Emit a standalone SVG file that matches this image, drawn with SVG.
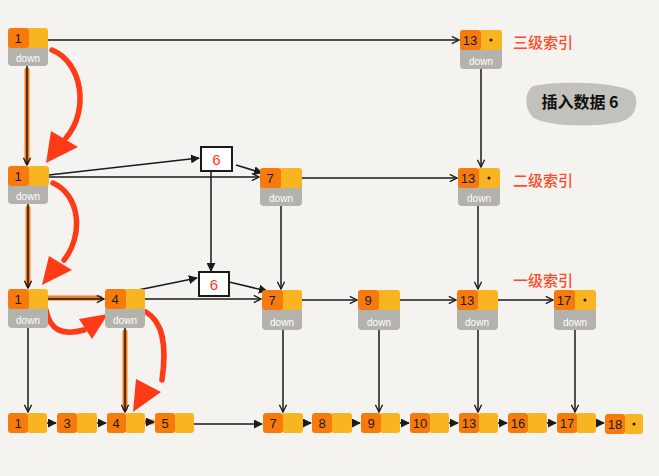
<svg xmlns="http://www.w3.org/2000/svg" width="659" height="476" viewBox="0 0 659 476">
<style>
.o{fill:#f77a0c}
.y{fill:#f8b421}
.d{fill:#b4b2ac}
.n{font-family:"Liberation Sans",sans-serif;font-size:13px;fill:#1a1a1a;text-anchor:middle}
.dw{font-family:"Liberation Sans",sans-serif;font-size:10px;fill:#ffffff;text-anchor:middle}
.dot{fill:#1a1a1a}
.ln{stroke:#1a1a1a;stroke-width:1.5;fill:none}
.hl{stroke:#f57a18;stroke-width:5;fill:none;stroke-linecap:round}
.red{stroke:#ff3a17;stroke-width:5.5;fill:none;stroke-linecap:round}
.rh{fill:#ff3a17}
.lbl{font-family:"Noto Sans CJK SC",sans-serif;font-size:15px;font-weight:500;fill:#ff4a2a}
.box{fill:#ffffff;stroke:#1a1a1a;stroke-width:2}
.six{font-family:"Liberation Sans",sans-serif;font-size:15px;fill:#ff3a17;text-anchor:middle}
</style>
<defs>
<marker id="f" viewBox="0 0 10 10" refX="9" refY="5" markerWidth="6" markerHeight="6" orient="auto"><path d="M0,0 L10,5 L0,10 z" fill="#1a1a1a"/></marker>
<marker id="c" viewBox="0 0 10 10" refX="9" refY="5" markerWidth="6" markerHeight="6" orient="auto"><path d="M1,1 L9,5 L1,9" fill="none" stroke="#1a1a1a" stroke-width="1.5"/></marker>
</defs>
<rect width="659" height="476" fill="#f4f3ef"/>

<g id="connectors">
<line class="hl" x1="27" y1="70" x2="27" y2="162"/>
<line class="hl" x1="28" y1="208" x2="28" y2="285"/>
<line class="hl" x1="44" y1="298" x2="100" y2="298"/>
<line class="hl" x1="125" y1="332" x2="125" y2="409"/>
<line class="hl" x1="140" y1="422" x2="152" y2="422"/>
<line class="ln" x1="40" y1="40" x2="459" y2="40" marker-end="url(#c)"/>
<line class="ln" x1="27" y1="66" x2="27" y2="165" marker-end="url(#c)"/>
<line class="ln" x1="481" y1="69" x2="481" y2="167" marker-end="url(#c)"/>
<line class="ln" x1="40" y1="176" x2="199" y2="158" marker-end="url(#f)"/>
<line class="ln" x1="236" y1="165" x2="262" y2="173" marker-end="url(#f)"/>
<line class="ln" x1="40" y1="177" x2="259" y2="177" marker-end="url(#c)"/>
<line class="ln" x1="292" y1="178" x2="457" y2="178" marker-end="url(#c)"/>
<line class="ln" x1="211" y1="172" x2="211" y2="271" marker-end="url(#f)"/>
<line class="ln" x1="28" y1="204" x2="28" y2="288" marker-end="url(#c)"/>
<line class="ln" x1="281" y1="206" x2="281" y2="289" marker-end="url(#c)"/>
<line class="ln" x1="478" y1="206" x2="478" y2="289" marker-end="url(#c)"/>
<line class="ln" x1="40" y1="299" x2="104" y2="299" marker-end="url(#c)"/>
<line class="ln" x1="138" y1="290" x2="197" y2="278" marker-end="url(#f)"/>
<line class="ln" x1="229" y1="282" x2="267" y2="291" marker-end="url(#f)"/>
<line class="ln" x1="142" y1="299" x2="261" y2="299" marker-end="url(#c)"/>
<line class="ln" x1="294" y1="300" x2="357" y2="300" marker-end="url(#c)"/>
<line class="ln" x1="390" y1="300" x2="456" y2="300" marker-end="url(#c)"/>
<line class="ln" x1="487" y1="300" x2="553" y2="300" marker-end="url(#c)"/>
<line class="ln" x1="28" y1="328" x2="28" y2="412" marker-end="url(#c)"/>
<line class="ln" x1="125" y1="328" x2="125" y2="412" marker-end="url(#c)"/>
<line class="ln" x1="283" y1="330" x2="283" y2="412" marker-end="url(#c)"/>
<line class="ln" x1="379" y1="330" x2="379" y2="412" marker-end="url(#c)"/>
<line class="ln" x1="478" y1="330" x2="478" y2="412" marker-end="url(#c)"/>
<line class="ln" x1="575" y1="330" x2="575" y2="412" marker-end="url(#c)"/>
<line class="ln" x1="38" y1="423" x2="56" y2="423" marker-end="url(#f)"/>
<line class="ln" x1="87" y1="423" x2="106" y2="423" marker-end="url(#f)"/>
<line class="ln" x1="186" y1="424" x2="262" y2="424" marker-end="url(#f)"/>
<line class="ln" x1="293" y1="423" x2="311" y2="423" marker-end="url(#f)"/>
<line class="ln" x1="342" y1="423" x2="360" y2="423" marker-end="url(#f)"/>
<line class="ln" x1="391" y1="423" x2="409" y2="423" marker-end="url(#f)"/>
<line class="ln" x1="440" y1="423" x2="458" y2="423" marker-end="url(#f)"/>
<line class="ln" x1="489" y1="423" x2="507" y2="423" marker-end="url(#f)"/>
<line class="ln" x1="538" y1="423" x2="556" y2="423" marker-end="url(#f)"/>
<line class="ln" x1="587" y1="423" x2="604" y2="423" marker-end="url(#f)"/>
<line x1="137" y1="422" x2="154" y2="422" stroke="#c0300a" stroke-width="1.5" marker-end="url(#f)"/>
<path class="red" d="M52,50 C82,62 90,110 66,138"/>
<polygon class="rh" points="51,131 78,147 46,163"/>
<path class="red" d="M53,183 C80,195 84,235 64,260"/>
<polygon class="rh" points="49,256 72,270 42,285"/>
<path class="red" d="M46,310 C50,330 62,336 84,330"/>
<polygon class="rh" points="79,319 108,314 92,339"/>
<path class="red" d="M146,312 C163,322 167,345 162,380"/>
<polygon class="rh" points="136,379 161,392 133,412"/>
</g>

<g id="n3-1"><rect class="d" x="8" y="44" width="40" height="22" rx="4"/><rect class="y" x="27" y="28" width="21" height="20" rx="3"/><rect class="o" x="8" y="28" width="21" height="20" rx="3"/><text class="n" x="18" y="43">1</text><text class="dw" x="28" y="62">down</text></g>
<g id="n3-13"><rect class="d" x="460" y="46" width="42" height="23" rx="4"/><rect class="y" x="479" y="30" width="23" height="20" rx="3"/><rect class="o" x="460" y="30" width="21" height="20" rx="3"/><text class="n" x="470" y="45">13</text><circle class="dot" cx="491" cy="40" r="1.5"/><text class="dw" x="481" y="65">down</text></g>
<g id="lbl3"><text class="lbl" x="513" y="48">三级索引</text></g>
<g id="note"><path d="M533,86 C560,80 620,82 633,92 C640,102 636,118 620,122 C590,128 548,126 534,118 C524,110 524,92 533,86 Z" fill="#c3c1bb"/><text x="580" y="108" font-family="Noto Sans CJK SC,sans-serif" font-size="16" font-weight="bold" fill="#111" text-anchor="middle">插入数据 6</text></g>

<g id="n2-1"><rect class="d" x="8" y="182" width="40" height="22" rx="4"/><rect class="y" x="28" y="166" width="21" height="20" rx="3"/><rect class="o" x="8" y="166" width="21" height="20" rx="3"/><text class="n" x="18" y="181">1</text><text class="dw" x="28" y="200">down</text></g>
<g id="n2-6"><rect class="box" x="201" y="147" width="31" height="24"/><text class="six" x="216.5" y="165">6</text></g>
<g id="n2-7"><rect class="d" x="260" y="184" width="42" height="22" rx="4"/><rect class="y" x="279" y="168" width="23" height="20" rx="3"/><rect class="o" x="260" y="168" width="21" height="20" rx="3"/><text class="n" x="270" y="183">7</text><text class="dw" x="281" y="202">down</text></g>
<g id="n2-13"><rect class="d" x="458" y="184" width="42" height="22" rx="4"/><rect class="y" x="477" y="168" width="23" height="20" rx="3"/><rect class="o" x="458" y="168" width="21" height="20" rx="3"/><text class="n" x="468" y="183">13</text><circle class="dot" cx="489" cy="178" r="1.5"/><text class="dw" x="479" y="202">down</text></g>
<g id="lbl2"><text class="lbl" x="513" y="186">二级索引</text></g>

<g id="n1-1"><rect class="d" x="8" y="306" width="40" height="22" rx="4"/><rect class="y" x="28" y="289" width="20" height="20" rx="3"/><rect class="o" x="8" y="289" width="21" height="20" rx="3"/><text class="n" x="18" y="304">1</text><text class="dw" x="28" y="324">down</text></g>
<g id="n1-4"><rect class="d" x="105" y="306" width="40" height="22" rx="4"/><rect class="y" x="124" y="289" width="21" height="20" rx="3"/><rect class="o" x="105" y="289" width="21" height="20" rx="3"/><text class="n" x="115" y="304">4</text><text class="dw" x="125" y="324">down</text></g>
<g id="n1-6"><rect class="box" x="199" y="272" width="30" height="24"/><text class="six" x="214" y="290">6</text></g>
<g id="n1-7"><rect class="d" x="262" y="307" width="40" height="23" rx="4"/><rect class="y" x="281" y="290" width="21" height="20" rx="3"/><rect class="o" x="262" y="290" width="21" height="20" rx="3"/><text class="n" x="272" y="305">7</text><text class="dw" x="282" y="326">down</text></g>
<g id="n1-9"><rect class="d" x="358" y="307" width="42" height="23" rx="4"/><rect class="y" x="377" y="290" width="23" height="20" rx="3"/><rect class="o" x="358" y="290" width="21" height="20" rx="3"/><text class="n" x="368" y="305">9</text><text class="dw" x="379" y="326">down</text></g>
<g id="n1-13"><rect class="d" x="457" y="307" width="41" height="23" rx="4"/><rect class="y" x="476" y="290" width="22" height="20" rx="3"/><rect class="o" x="457" y="290" width="21" height="20" rx="3"/><text class="n" x="467" y="305">13</text><text class="dw" x="477" y="326">down</text></g>
<g id="n1-17"><rect class="d" x="554" y="307" width="42" height="23" rx="4"/><rect class="y" x="573" y="290" width="23" height="20" rx="3"/><rect class="o" x="554" y="290" width="21" height="20" rx="3"/><text class="n" x="564" y="305">17</text><circle class="dot" cx="585" cy="300" r="1.5"/><text class="dw" x="575" y="326">down</text></g>
<g id="lbl1"><text class="lbl" x="513" y="286">一级索引</text></g>

<g id="n0-1"><rect class="y" x="27" y="413" width="20" height="20" rx="3"/><rect class="o" x="8" y="413" width="20" height="20" rx="3"/><text class="n" x="18" y="428">1</text></g>
<g id="n0-3"><rect class="y" x="76" y="413" width="21" height="20" rx="3"/><rect class="o" x="57" y="413" width="20" height="20" rx="3"/><text class="n" x="67" y="428">3</text></g>
<g id="n0-4"><rect class="y" x="125" y="413" width="20" height="20" rx="3"/><rect class="o" x="107" y="413" width="19" height="20" rx="3"/><text class="n" x="116" y="428">4</text></g>
<g id="n0-5"><rect class="y" x="174" y="413" width="20" height="20" rx="3"/><rect class="o" x="155" y="413" width="20" height="20" rx="3"/><text class="n" x="165" y="428">5</text></g>
<g id="n0-7"><rect class="y" x="282" y="413" width="21" height="20" rx="3"/><rect class="o" x="263" y="413" width="20" height="20" rx="3"/><text class="n" x="273" y="428">7</text></g>
<g id="n0-8"><rect class="y" x="331" y="413" width="21" height="20" rx="3"/><rect class="o" x="312" y="413" width="20" height="20" rx="3"/><text class="n" x="322" y="428">8</text></g>
<g id="n0-9"><rect class="y" x="380" y="413" width="20" height="20" rx="3"/><rect class="o" x="361" y="413" width="20" height="20" rx="3"/><text class="n" x="371" y="428">9</text></g>
<g id="n0-10"><rect class="y" x="429" y="413" width="20" height="20" rx="3"/><rect class="o" x="410" y="413" width="20" height="20" rx="3"/><text class="n" x="420" y="428">10</text></g>
<g id="n0-13"><rect class="y" x="478" y="413" width="20" height="20" rx="3"/><rect class="o" x="459" y="413" width="20" height="20" rx="3"/><text class="n" x="469" y="428">13</text></g>
<g id="n0-16"><rect class="y" x="527" y="413" width="20" height="20" rx="3"/><rect class="o" x="508" y="413" width="20" height="20" rx="3"/><text class="n" x="518" y="428">16</text></g>
<g id="n0-17"><rect class="y" x="576" y="413" width="20" height="20" rx="3"/><rect class="o" x="557" y="413" width="20" height="20" rx="3"/><text class="n" x="567" y="428">17</text></g>
<g id="n0-18"><rect class="y" x="624" y="414" width="19" height="20" rx="3"/><rect class="o" x="605" y="414" width="20" height="20" rx="3"/><text class="n" x="615" y="429">18</text><circle class="dot" cx="634" cy="424" r="1.5"/></g>
</svg>
